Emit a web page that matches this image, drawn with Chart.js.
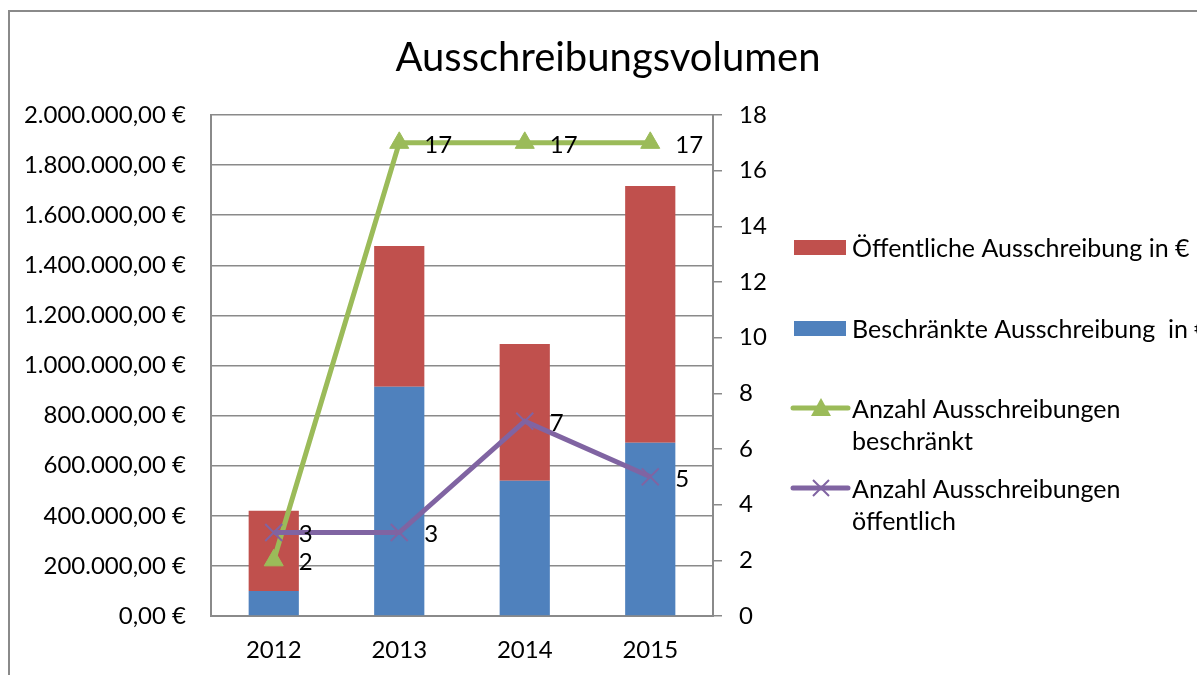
<!DOCTYPE html>
<html>
<head>
<meta charset="utf-8">
<title>Ausschreibungsvolumen</title>
<script src="https://cdn.jsdelivr.net/npm/chart.js@4.4.1/dist/chart.umd.min.js"></script>
<style>
  html, body { margin: 0; padding: 0; background: #fff; overflow: hidden; }
  #wrap { position: relative; width: 1197px; height: 675px; overflow: hidden; }
  #frame { position: absolute; left: 8px; top: 10px; width: 1300px; height: 800px;
           border: 2px solid #8a8a8a; box-sizing: border-box; }
  #chart { position: absolute; left: 0; top: 0; }
</style>
</head>
<body>
<div id="wrap">
  <div id="frame"></div>
  <canvas id="chart" width="1197" height="675"></canvas>
</div>
<script>
// --- data ---
const years = ["2012", "2013", "2014", "2015"];
const restrictedEuro = [100000, 915000, 540000, 692000];   // Beschränkte Ausschreibung in €
const publicEuro = [320000, 562000, 546000, 1025000];      // Öffentliche Ausschreibung in €
const countRestricted = [2, 17, 17, 17];                   // Anzahl beschränkt
const countPublic = [3, 3, 7, 5];                          // Anzahl öffentlich

const chartTitle = "Ausschreibungsvolumen";
const legendLabels = [
  ["Öffentliche Ausschreibung in €"],
  ["Beschränkte Ausschreibung  in €"],
  ["Anzahl Ausschreibungen", "beschränkt"],
  ["Anzahl Ausschreibungen", "öffentlich"],
];

const RED = "#C0504D", BLUE = "#4F81BD", GREEN = "#9BBB59", PURPLE = "#8064A2";
const GRID = "#8a8a8a";
const FONT = "Lato, 'Open Sans', sans-serif";

function euro(v) {
  // German number format: 1.800.000,00 €
  const int = Math.round(v).toString().replace(/\B(?=(\d{3})+(?!\d))/g, ".");
  return int + ",00 €";
}

// title centred over the whole frame (not just the plot box)
const frameTitle = {
  id: "frameTitle",
  afterDraw(chart) {
    const ctx = chart.ctx;
    ctx.save();
    ctx.font = "40px " + FONT;
    ctx.fillStyle = "#000";
    ctx.textAlign = "center";
    ctx.textBaseline = "middle";
    ctx.fillText(chartTitle, 608, 58);
    ctx.restore();
  }
};

// value labels right of each line point
const pointLabels = {
  id: "pointLabels",
  afterDatasetsDraw(chart) {
    const ctx = chart.ctx;
    ctx.save();
    ctx.font = "24px " + FONT;
    ctx.fillStyle = "#000";
    ctx.textAlign = "left";
    ctx.textBaseline = "middle";
    chart.data.datasets.forEach((ds, i) => {
      if (ds.type !== "line") return;
      chart.getDatasetMeta(i).data.forEach((pt, j) => {
        ctx.fillText(String(ds.data[j]), pt.x + 25, pt.y + 2);
      });
    });
    ctx.restore();
  }
};

// legend on the right, Excel style
const sideLegend = {
  id: "sideLegend",
  afterDraw(chart) {
    const ctx = chart.ctx;
    const sx = chart.chartArea.right + 81;   // swatch left
    const tx = sx + 58;                       // text left
    const rows = [247, 328, 408, 488];
    const styles = [
      { kind: "box", color: RED },
      { kind: "box", color: BLUE },
      { kind: "tri", color: GREEN },
      { kind: "cross", color: PURPLE },
    ];
    ctx.save();
    styles.forEach((s, i) => {
      const y = rows[i];
      if (s.kind === "box") {
        ctx.fillStyle = s.color;
        ctx.fillRect(sx, y - 7, 52, 15);
      } else {
        ctx.strokeStyle = s.color;
        ctx.lineWidth = 5;
        ctx.lineCap = "round";
        ctx.beginPath();
        ctx.moveTo(sx - 1, y);
        ctx.lineTo(sx + 54, y);
        ctx.stroke();
        const cx = sx + 27;
        if (s.kind === "tri") {
          ctx.fillStyle = s.color;
          ctx.beginPath();
          ctx.moveTo(cx, y - 10);
          ctx.lineTo(cx + 10, y + 8);
          ctx.lineTo(cx - 10, y + 8);
          ctx.closePath();
          ctx.fill();
        } else {
          ctx.lineWidth = 2;
          ctx.lineCap = "butt";
          ctx.beginPath();
          ctx.moveTo(cx - 8, y - 8); ctx.lineTo(cx + 8, y + 8);
          ctx.moveTo(cx + 8, y - 8); ctx.lineTo(cx - 8, y + 8);
          ctx.stroke();
        }
      }
      ctx.fillStyle = "#000";
      ctx.font = "25px " + FONT;
      ctx.textAlign = "left";
      ctx.textBaseline = "middle";
      legendLabels[i].forEach((line, k) => ctx.fillText(line, tx, y + 2 + k * 32));
    });
    ctx.restore();
  }
};

new Chart(document.getElementById("chart"), {
  data: {
    labels: years,
    datasets: [
      {
        type: "line", label: legendLabels[3].join(" "), data: countPublic, yAxisID: "y1", order: 0,
        borderColor: PURPLE, borderWidth: 5, pointStyle: "crossRot", pointRadius: 12,
        pointBorderWidth: 2, pointBorderColor: PURPLE, pointBackgroundColor: PURPLE, tension: 0,
      },
      {
        type: "line", label: legendLabels[2].join(" "), data: countRestricted, yAxisID: "y1", order: 1,
        borderColor: GREEN, borderWidth: 5, pointStyle: "triangle", pointRadius: 11,
        pointBorderWidth: 1, pointBorderColor: GREEN, pointBackgroundColor: GREEN, tension: 0,
      },
      {
        type: "bar", label: legendLabels[1][0], data: restrictedEuro, yAxisID: "y", order: 2,
        backgroundColor: BLUE, categoryPercentage: 1, barPercentage: 0.4,
      },
      {
        type: "bar", label: legendLabels[0][0], data: publicEuro, yAxisID: "y", order: 3,
        backgroundColor: RED, categoryPercentage: 1, barPercentage: 0.4,
      },
    ],
  },
  options: {
    responsive: false,
    animation: false,
    layout: { padding: { left: 0, right: 424, top: 115, bottom: 0 } },
    plugins: {
      legend: { display: false },
      tooltip: { enabled: false },
      title: { display: false },
    },
    scales: {
      x: {
        stacked: true,
        grid: { display: false, drawTicks: false },
        border: { display: true, color: GRID, width: 2 },
        ticks: { color: "#000", padding: 20, font: { family: FONT, size: 24 } },
        afterFit(s) { s.height = 59; },
      },
      y: {
        stacked: true, position: "left", min: 0, max: 2000000,
        grid: { color: GRID, lineWidth: 1.5, drawTicks: false },
        border: { display: true, color: GRID, width: 2 },
        ticks: { stepSize: 200000, color: "#000", padding: 25,
                 font: { family: FONT, size: 24 }, callback: v => euro(v) },
        afterFit(s) { s.width = 211; },
      },
      y1: {
        position: "right", min: 0, max: 18,
        grid: { drawOnChartArea: false, color: GRID, lineWidth: 1.5, tickLength: 9 },
        border: { display: true, color: GRID, width: 2 },
        ticks: { stepSize: 2, color: "#000", padding: 17, font: { family: FONT, size: 24 } },
        afterFit(s) { s.width = 60; },
      },
    },
  },
  plugins: [frameTitle, pointLabels, sideLegend],
});
</script>
</body>
</html>
